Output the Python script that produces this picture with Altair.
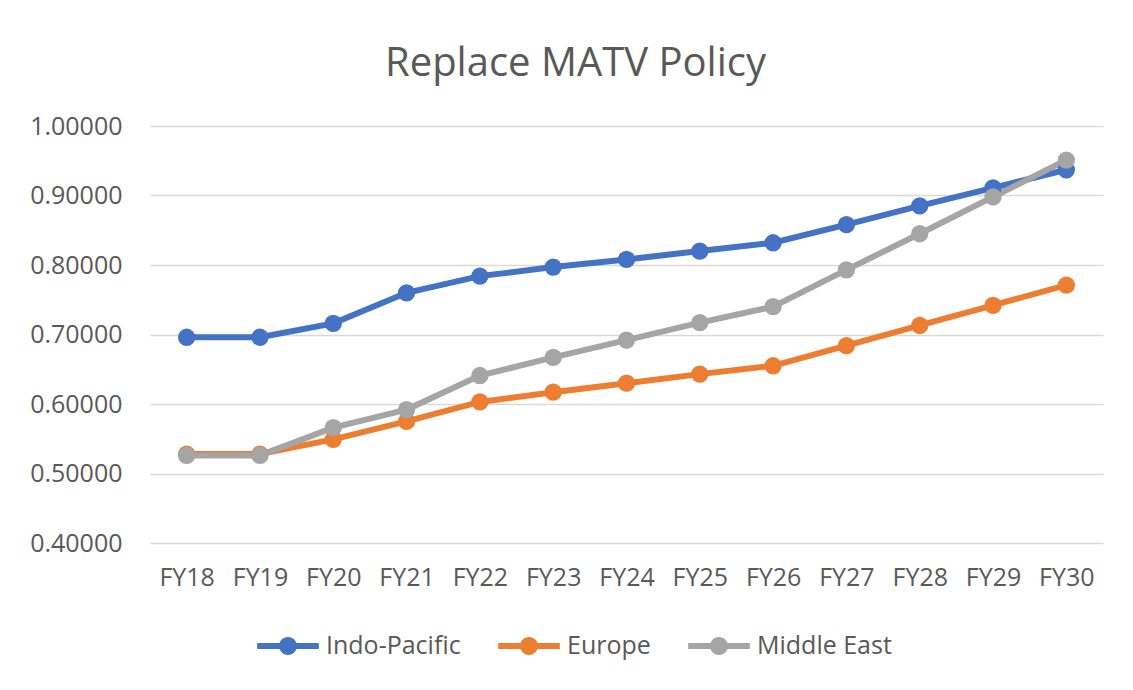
import altair as alt
import pandas as pd

years = ["FY18", "FY19", "FY20", "FY21", "FY22", "FY23", "FY24",
         "FY25", "FY26", "FY27", "FY28", "FY29", "FY30"]
series_names = ["Indo-Pacific", "Europe", "Middle East"]
indo_pacific = [0.696, 0.696, 0.716, 0.760, 0.784, 0.797, 0.808,
                0.820, 0.832, 0.858, 0.885, 0.911, 0.937]
europe = [0.528, 0.528, 0.549, 0.575, 0.603, 0.617, 0.630,
          0.643, 0.655, 0.684, 0.713, 0.742, 0.771]
middle_east = [0.526, 0.526, 0.566, 0.592, 0.641, 0.667, 0.692,
               0.717, 0.740, 0.793, 0.845, 0.898, 0.951]
colors = ["#4472C4", "#ED7D31", "#A5A5A5"]

rows = []
for name, vals in zip(series_names, [indo_pacific, europe, middle_east]):
    for y, v in zip(years, vals):
        rows.append({"Year": y, "Series": name, "Value": v})
df = pd.DataFrame(rows)

FONT = "Open Sans"
TXT = "#595959"
FS = 25

legend_symbol = ("M-1,-0.095 L1,-0.095 L1,0.095 L-1,0.095 Z "
                 "M0.29,0 A0.29,0.29 0 1,1 -0.29,0 A0.29,0.29 0 1,1 0.29,0 Z")

chart = alt.Chart(df).mark_line(
    strokeWidth=6,
    point=alt.OverlayMarkDef(filled=True, size=300, opacity=1),
).encode(
    x=alt.X("Year:N", sort=years, scale=alt.Scale(padding=0.5),
            axis=alt.Axis(title=None, labelAngle=0, domain=False, ticks=False,
                          labelPadding=22, labelFontSize=FS, labelColor=TXT,
                          labelFont=FONT)),
    y=alt.Y("Value:Q", scale=alt.Scale(domain=[0.4, 1.0], nice=False, zero=False),
            axis=alt.Axis(title=None, format=".5f", values=[0.4, 0.5, 0.6, 0.7, 0.8, 0.9, 1.0],
                          domain=False, ticks=False, labelPadding=28,
                          labelFontSize=FS, labelColor=TXT, labelFont=FONT,
                          gridColor="#D9D9D9", gridWidth=1.5)),
    color=alt.Color("Series:N", sort=series_names,
                    scale=alt.Scale(domain=series_names, range=colors),
                    legend=alt.Legend(title=None, orient="none", direction="horizontal",
                                      legendX=107, legendY=489,
                                      symbolType=legend_symbol, symbolSize=3800,
                                      symbolStrokeWidth=0, labelFontSize=FS,
                                      labelColor=TXT, labelFont=FONT,
                                      labelOffset=7, columnPadding=37)),
    order=alt.Order("Series:N"),
).properties(
    width=953,
    height=417,
    title=alt.TitleParams("Replace MATV Policy", fontSize=40, font=FONT,
                          fontWeight="normal", color=TXT, anchor="middle",
                          dx=-51, offset=30),
    padding={"left": 142, "top": 118, "right": 20, "bottom": 130},
    autosize=alt.AutoSizeParams(type="none"),
).configure_view(stroke=None)

chart.save("out.html", embed_options={"renderer": "svg", "actions": False})
